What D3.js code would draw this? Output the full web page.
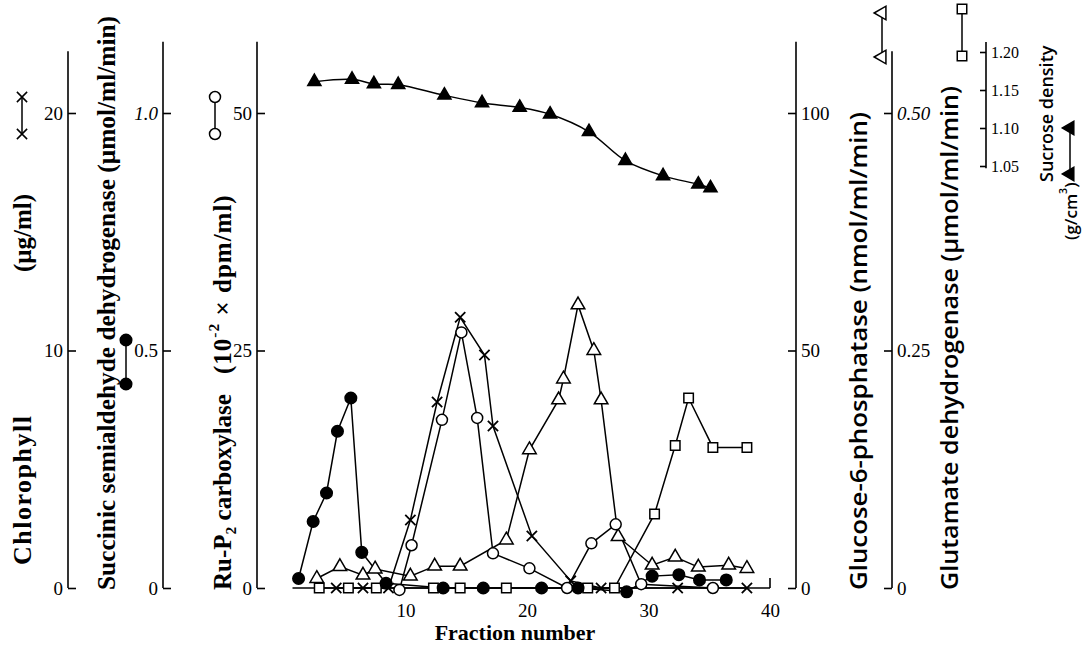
<!DOCTYPE html>
<html>
<head>
<meta charset="utf-8">
<script src="https://cdn.jsdelivr.net/npm/d3@7"></script>
<style>
  html, body { margin: 0; padding: 0; background: #fff; }
  svg { display: block; }
</style>
</head>
<body>
<div id="chart"></div>
<script>
// ---- data (x = fraction number) ----
const xTicks = [10, 20, 30, 40];

// Chlorophyll (ug/ml), x markers
const chlFrac = [4.3, 6.5, 8.6, 10.4, 12.6, 14.5, 16.5, 17.2, 20.4, 23.6, 26.1, 32.4, 38.1];
const chlVal  = [0, 0, 0, 2.86, 7.83, 11.4, 9.81, 6.82, 2.19, 0.3, 0, 0, 0];

// Succinic semialdehyde dehydrogenase (umol/ml/min), filled circles
const ssFrac = [1.2, 2.4, 3.5, 4.4, 5.5, 6.4, 8.4, 13.1, 16.4, 21.2, 24.2, 28.2, 30.3, 32.5, 34.2, 36.4];
const ssVal  = [0.02, 0.14, 0.20, 0.33, 0.40, 0.075, 0.01, 0, 0, 0, 0, -0.008, 0.025, 0.028, 0.017, 0.017];

// Ru-P2 carboxylase (10^-2 x dpm/ml), open circles
const rubFrac = [9.5, 10.5, 13.0, 14.6, 15.9, 17.2, 20.2, 23.3, 25.3, 27.3, 29.4, 35.3];
const rubVal  = [-0.2, 4.5, 17.7, 26.9, 17.9, 3.65, 2.07, 0, 4.7, 6.7, 0.4, 0];

// Glucose-6-phosphatase (nmol/ml/min), open triangles
const g6pFrac = [2.7, 4.6, 6.5, 7.5, 10.4, 12.4, 14.5, 18.3, 20.2, 22.6, 23.0, 24.2, 25.5, 26.1, 27.5, 30.3, 32.2, 34.1, 36.6, 38.1];
const g6pVal  = [2.0, 4.5, 2.7, 4.0, 2.5, 4.6, 4.6, 10.1, 29.1, 39.6, 44.0, 59.6, 50.0, 39.6, 10.8, 4.8, 6.5, 4.4, 4.8, 4.1];

// Glutamate dehydrogenase (umol/ml/min), open squares
const gdhFrac = [2.9, 5.3, 7.6, 12.3, 14.5, 18.3, 25.0, 27.2, 30.5, 32.2, 33.3, 35.3, 38.1];
const gdhVal  = [0, 0, 0, 0, 0, 0, 0, 0, 0.078, 0.15, 0.20, 0.148, 0.148];

// Sucrose density (g/cm3), filled triangles
const sucFrac = [2.5, 5.6, 7.4, 9.4, 13.2, 16.3, 19.4, 21.9, 25.1, 28.1, 31.2, 34.1, 35.1];
const sucVal  = [1.161, 1.164, 1.158, 1.157, 1.143, 1.133, 1.127, 1.118, 1.095, 1.057, 1.037, 1.026, 1.021];

// axis tick values
const chlTicks = [0, 10, 20];
const ssTicks  = [0, 0.5, 1.0];
const rubTicks = [0, 25, 50];
const g6pTicks = [0, 50, 100];
const gdhTicks = [0, 0.25, 0.5];
const sucTicks = [1.05, 1.10, 1.15, 1.20];

// ---- layout ----
const W = 1084, H = 651;
const yBase = 588, yFull = 113;
const SERIF = "'Liberation Serif','DejaVu Serif',serif";
const SANS  = "'Open Sans','Liberation Sans',sans-serif";

const svg = d3.select('#chart').append('svg')
  .attr('width', W).attr('height', H)
  .attr('viewBox', `0 0 ${W} ${H}`);

const x    = d3.scaleLinear().domain([0, 40]).range([284, 770]);
const yChl = d3.scaleLinear().domain([0, 20]).range([yBase, yFull]);
const ySs  = d3.scaleLinear().domain([0, 1.0]).range([yBase, yFull]);
const yRub = d3.scaleLinear().domain([0, 50]).range([yBase, yFull]);
const yG6p = d3.scaleLinear().domain([0, 100]).range([yBase, yFull]);
const yGdh = d3.scaleLinear().domain([0, 0.5]).range([yBase, yFull]);
const ySuc = d3.scaleLinear().domain([1.05, 1.20]).range([166, 52]);

// vertical axes: left ones have inward ticks to the right, labels on the left
function yAxis(scale, xPos, ticks, fmt, ext, side, italicAt) {
  const ax = side === 'left' ? d3.axisRight(scale) : d3.axisLeft(scale);
  const g = svg.append('g').attr('transform', `translate(${xPos},0)`)
    .call(ax.tickValues(ticks).tickSize(8).tickFormat(fmt));
  g.select('.domain').remove();
  g.selectAll('.tick line').attr('stroke', '#000').attr('stroke-width', 1.6);
  g.selectAll('.tick text')
    .attr('x', side === 'left' ? -5 : 5)
    .attr('text-anchor', side === 'left' ? 'end' : 'start')
    .attr('fill', '#000')
    .style('font-family', SERIF)
    .style('font-size', '19px')
    .style('font-style', d => (italicAt != null && Math.abs(d - italicAt) < 1e-9) ? 'italic' : 'normal');
  g.append('line')
    .attr('x1', 0).attr('x2', 0)
    .attr('y1', scale(ext[0])).attr('y2', scale(ext[1]))
    .attr('stroke', '#000').attr('stroke-width', 1.6);
  return g;
}

yAxis(yChl, 68,  chlTicks, d3.format('d'), [0, 22.6], 'left');
yAxis(ySs,  163, ssTicks,  d => d === 0 ? '0' : d3.format('.1f')(d), [0, 1.15], 'left', 1.0);
yAxis(yRub, 257, rubTicks, d3.format('d'), [0, 57.5], 'left');
yAxis(yG6p, 796, g6pTicks, d3.format('d'), [0, 115], 'right');
yAxis(yGdh, 892, gdhTicks, d => d === 0 ? '0' : d3.format('.2f')(d), [0, 0.565], 'right', 0.5);
const sucAx = yAxis(ySuc, 986, sucTicks, d3.format('.2f'), [1.047, 1.213], 'right');
sucAx.selectAll('.tick text').style('font-size', '16px');
sucAx.selectAll('.tick line').attr('x2', -6);

// x axis: labels only, line with an end tick at 40
const xg = svg.append('g').attr('transform', `translate(0,${yBase})`)
  .call(d3.axisBottom(x).tickValues(xTicks).tickSize(0).tickPadding(16));
xg.select('.domain').remove();
xg.selectAll('.tick text').attr('fill', '#000').style('font-family', SERIF).style('font-size', '19px');
xg.append('line').attr('x1', x(0.7)).attr('x2', x(40)).attr('y1', 0).attr('y2', 0)
  .attr('stroke', '#000').attr('stroke-width', 1.6);
xg.append('line').attr('x1', x(40)).attr('x2', x(40)).attr('y1', 0).attr('y2', -10)
  .attr('stroke', '#000').attr('stroke-width', 1.6);

svg.append('text').attr('x', 515).attr('y', 640).attr('text-anchor', 'middle')
  .style('font-family', SERIF).style('font-weight', 'bold').style('font-size', '22px')
  .text('Fraction number');

// ---- series ----
const series = [
  { frac: sucFrac, val: sucVal, y: ySuc, sym: d3.symbolTriangle, fill: '#000', size: 75, curve: d3.curveCatmullRom },
  { frac: g6pFrac, val: g6pVal, y: yG6p, sym: d3.symbolTriangle, fill: '#fff', size: 80 },
  { frac: gdhFrac, val: gdhVal, y: yGdh, sym: d3.symbolSquare,   fill: '#fff', size: 90 },
  { frac: chlFrac, val: chlVal, y: yChl, sym: d3.symbolTimes,    fill: 'none', size: 70 },
  { frac: rubFrac, val: rubVal, y: yRub, sym: d3.symbolCircle,   fill: '#fff', size: 95 },
  { frac: ssFrac,  val: ssVal,  y: ySs,  sym: d3.symbolCircle,   fill: '#000', size: 105 }
];

series.forEach(s => {
  const pts = s.frac.map((f, i) => [x(f), s.y(s.val[i])]);
  svg.append('path')
    .attr('d', d3.line().curve(s.curve || d3.curveLinear)(pts))
    .attr('fill', 'none').attr('stroke', '#000').attr('stroke-width', 1.5);
});

series.forEach(s => {
  const pts = s.frac.map((f, i) => [x(f), s.y(s.val[i])]);
  svg.append('g').selectAll('path').data(pts).join('path')
    .attr('transform', d => `translate(${d[0]},${d[1]})`)
    .attr('d', d3.symbol(s.sym, s.size))
    .attr('fill', s.fill)
    .attr('stroke', '#000').attr('stroke-width', s.sym === d3.symbolTimes ? 1.8 : 1.5);
});

// ---- titles (rotated, reading bottom to top) ----
function vtext(xc, yStart, parts, opts) {
  const t = svg.append('text')
    .attr('transform', `translate(${xc},${yStart}) rotate(-90)`)
    .attr('dominant-baseline', 'central')
    .attr('fill', '#000')
    .style('font-family', opts.font)
    .style('font-weight', opts.weight || 'bold')
    .style('font-size', opts.size + 'px')
    .style('letter-spacing', (opts.ls || 0) + 'px');
  if (opts.len) t.attr('textLength', opts.len).attr('lengthAdjust', 'spacingAndGlyphs');
  parts.forEach(p => {
    const ts = t.append('tspan').text(p.t);
    if (p.sub) ts.attr('baseline-shift', 'sub').style('font-size', (opts.size * 0.62) + 'px');
    if (p.sup) ts.attr('baseline-shift', 'super').style('font-size', (opts.size * 0.62) + 'px');
  });
  return t;
}

function legendGlyph(xc, y1, y2, sym, fill, size, rot) {
  const g = svg.append('g');
  g.append('line').attr('x1', xc).attr('x2', xc).attr('y1', y1).attr('y2', y2)
    .attr('stroke', '#000').attr('stroke-width', 1.5);
  g.selectAll('path').data([y1, y2]).join('path')
    .attr('transform', d => `translate(${xc},${d}) rotate(${rot || 0})`)
    .attr('d', d3.symbol(sym, size))
    .attr('fill', fill).attr('stroke', '#000').attr('stroke-width', 1.5);
}

vtext(22, 565, [{ t: 'Chlorophyll' }], { font: SERIF, size: 26, ls: 1.5 });
vtext(22, 272, [{ t: '(\u03bcg/ml)' }], { font: SERIF, size: 25 });
legendGlyph(22, 134, 97, d3.symbolTimes, 'none', 70);

vtext(106, 590, [{ t: 'Succinic semialdehyde dehydrogenase (\u03bcmol/ml/min)' }], { font: SERIF, size: 25, len: 574 });
legendGlyph(126, 384, 340, d3.symbolCircle, '#000', 105);

vtext(222, 590, [{ t: 'Ru-P' }, { t: '2', sub: true }, { t: ' carboxylase' }], { font: SERIF, size: 25 });
vtext(222, 374, [{ t: '(10' }, { t: '-2', sup: true }, { t: ' \u00d7 dpm/ml)' }], { font: SERIF, size: 25, ls: 1 });
legendGlyph(215, 134, 97, d3.symbolCircle, '#fff', 95);

vtext(857, 590, [{ t: 'Glucose-6-phosphatase (nmol/ml/min)' }], { font: SANS, size: 24, weight: 600, len: 478 });
legendGlyph(882, 57, 13, d3.symbolTriangle, '#fff', 80, -90);

vtext(948, 590, [{ t: 'Glutamate dehydrogenase (\u03bcmol/ml/min)' }], { font: SANS, size: 24, weight: 600, len: 504 });
legendGlyph(962, 56, 9, d3.symbolSquare, '#fff', 90);

vtext(1046, 182, [{ t: 'Sucrose density' }], { font: SANS, size: 18, weight: 600 });
vtext(1070, 240, [{ t: '(g/cm' }, { t: '3', sup: true }, { t: ')' }], { font: SANS, size: 17, weight: 600 });
legendGlyph(1070, 174, 128, d3.symbolTriangle, '#000', 75, -90);
</script>
</body>
</html>
